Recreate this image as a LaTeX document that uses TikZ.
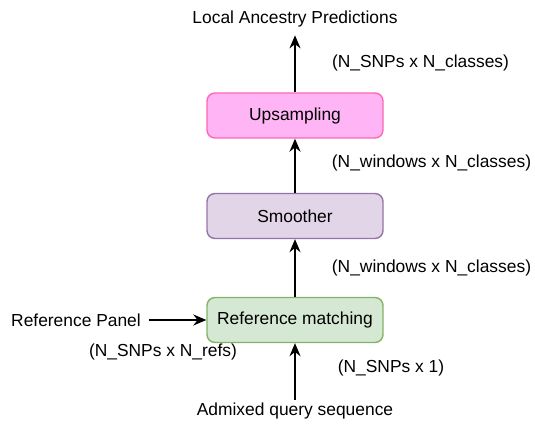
\documentclass[tikz,border=0pt]{standalone}
\usepackage{fontspec}
\setmainfont{Liberation Sans}
\usetikzlibrary{arrows.meta,positioning}

\definecolor{upfill}{HTML}{FFB5F5}
\definecolor{updraw}{HTML}{FF66B3}
\definecolor{smfill}{HTML}{E1D5E7}
\definecolor{smdraw}{HTML}{9673A6}
\definecolor{rmfill}{HTML}{D5E8D4}
\definecolor{rmdraw}{HTML}{82B366}

\tikzset{
  stage/.style={draw, line width=1.4pt, rounded corners=8pt,
    minimum width=176pt, minimum height=45pt, inner sep=0pt},
  flow/.style={line width=2pt, -{Stealth[length=13pt,width=11pt]}},
  dims/.style={inner sep=0pt}
}

\begin{document}
\begin{tikzpicture}[x=1pt,y=-1pt,line join=round,
  font=\fontsize{17.4}{21}\selectfont]
  \useasboundingbox (0,0) rectangle (535,423);
  \node[stage, fill=upfill, draw=updraw] (up) at (295,115.5) {Upsampling};
  \node[stage, fill=smfill, draw=smdraw] (smooth) at (295,216) {Smoother};
  \node[stage, fill=rmfill, draw=rmdraw] (refmatch) at (295,320) {Reference matching};
  \node[inner ysep=8pt] (out) at (295,19) {Local Ancestry Predictions};
  \node[inner ysep=3pt] (query) at (295,411) {Admixed query sequence};
  \node[inner xsep=8pt] (panel) at (76,320) {Reference Panel};

  \draw[flow] (query) -- (refmatch);
  \draw[flow] (panel) -- (refmatch);
  \draw[flow] (refmatch) -- (smooth);
  \draw[flow] (smooth) -- (up);
  \draw[flow] (up) -- (out);

  \node[dims] (d1) at (420.5,63) {(N\_SNPs x N\_classes)};
  \node[dims] (d2) at (431.5,163) {(N\_windows x N\_classes)};
  \node[dims] (d3) at (431.5,268) {(N\_windows x N\_classes)};
  \node[dims] (d4) at (163,352) {(N\_SNPs x N\_refs)};
  \node[dims] (d5) at (391,368) {(N\_SNPs x 1)};
\end{tikzpicture}
\end{document}
